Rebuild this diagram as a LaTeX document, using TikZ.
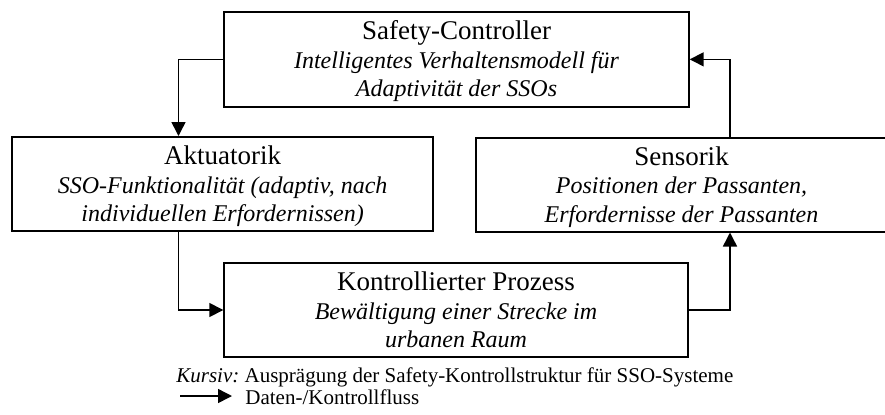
\documentclass[tikz,border=0pt]{standalone}
\usepackage{fontspec}
\setmainfont{Liberation Serif}
\usetikzlibrary{arrows.meta}
\begin{document}
\begin{tikzpicture}[x=0.5pt,y=-0.5pt,
  box/.style={draw, line width=1pt, rectangle, inner sep=0pt, align=center,
    font=\fontsize{12}{14.25}\selectfont},
  flow/.style={line width=0.75pt, -{Triangle[length=7pt,width=7pt]}},
  legend/.style={anchor=base west, inner sep=0pt, font=\fontsize{10.5}{12.6}\selectfont}]
\useasboundingbox (0,0) rectangle (885,414);
\newcommand{\ttl}[1]{{\fontsize{13.5}{14.25}\selectfont\rule{0pt}{11.7pt}#1}}
\newcommand{\lastl}[1]{\textit{#1}\rule[-2.7pt]{0pt}{0pt}}
\node[box, minimum width=232.2pt, minimum height=47.35pt] (ctrl) at (456.5,59.35)
  {\ttl{Safety-Controller}\\ \textit{Intelligentes Verhaltensmodell für}\\ \lastl{Adaptivität der SSOs}};
\node[box, minimum width=210.65pt, minimum height=47pt] (akt) at (222.65,184)
  {\ttl{Aktuatorik}\\ \textit{SSO-Funktionalität (adaptiv, nach}\\ \lastl{individuellen Erfordernissen)}};
\node[box, minimum width=205.5pt, minimum height=47pt] (sens) at (681.5,184.5)
  {\ttl{Sensorik}\\ \textit{Positionen der Passanten,}\\ \lastl{Erfordernisse der Passanten}};
\node[box, minimum width=231.7pt, minimum height=46.7pt] (proc) at (456,310)
  {\ttl{Kontrollierter Prozess}\\ \textit{Bewältigung einer Strecke im}\\ \lastl{urbanen Raum}};
\draw[flow] (ctrl.west) -| ([xshift=83.75pt]akt.north west);
\draw[flow] ([xshift=127.5pt]sens.north west) |- (ctrl.east);
\draw[flow] ([xshift=83.75pt]akt.south west) |- (proc.west);
\draw[flow] (proc.east) -| ([xshift=127.5pt]sens.south west);
\node[legend] (leg1) at (176,382) {\textit{Kursiv:}\hspace{0.25em}Ausprägung der Safety-Kontrollstruktur für SSO-Systeme};
\node[legend] (leg2) at (245,404) {Daten-/Kontrollfluss};
\coordinate (la) at (180,396);
\coordinate (lb) at (232,396);
\draw[flow] (la) -- (lb);
\end{tikzpicture}
\end{document}
